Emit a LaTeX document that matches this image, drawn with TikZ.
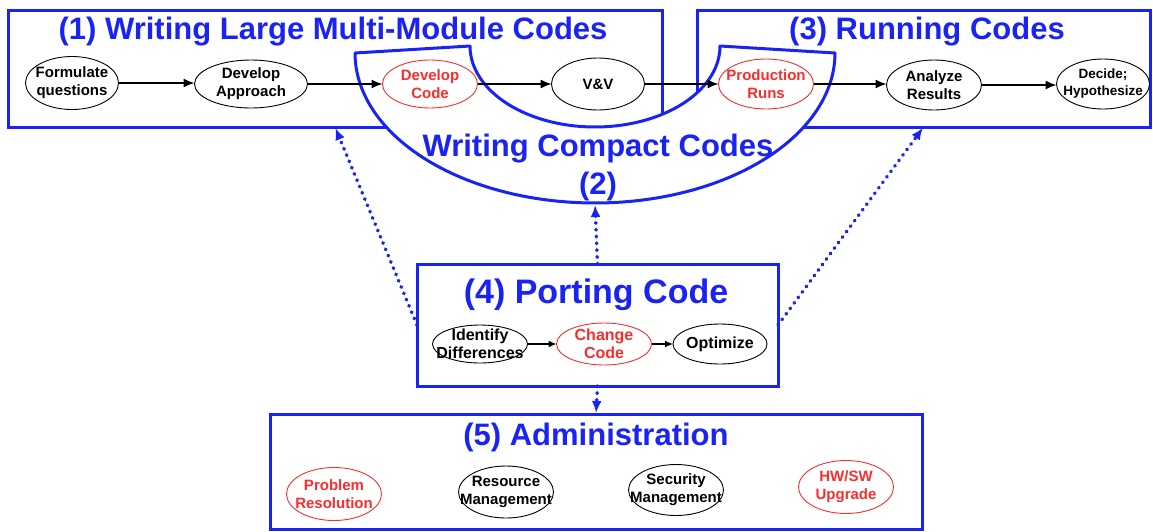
\documentclass[tikz,border=0pt]{standalone}
\usepackage{fontspec}
\setmainfont{Liberation Sans}
\usetikzlibrary{arrows.meta,shapes.geometric}
\definecolor{bl}{RGB}{25,35,245}
\definecolor{rd}{RGB}{250,45,45}
\begin{document}
\begin{tikzpicture}[x=1pt,y=-1pt,
  box/.style={draw=bl,line width=3pt,inner sep=0pt,outer sep=0pt},
  title/.style={text=bl,font=\fontsize{31}{38}\selectfont\bfseries,inner sep=0pt,align=center},
  el/.style={draw=black,ellipse,line width=0.9pt,inner sep=0pt,outer sep=0pt},
  rel/.style={el,draw=rd},
  lab/.style={align=center,inner sep=0pt,font=\fontsize{15}{18}\selectfont\bfseries},
  rlab/.style={lab,text=rd},
  arr/.style={-{Latex[length=11pt,width=9pt]},line width=1.3pt},
  sarr/.style={-{Latex[length=8pt,width=7pt]},line width=1.3pt},
  dotarr/.style={draw=bl,line width=3.6pt,line cap=round,dash pattern=on 0.6pt off 6.2pt,
     -{Latex[length=12pt,width=10pt]},shorten >=1pt}]
\useasboundingbox (0,0) rectangle (1153,531);

% boxes
\node[box,minimum width=654pt,minimum height=117pt] (b1) at (335,68.5) {};
\node[box,minimum width=453pt,minimum height=117pt] (b3) at (923.5,68.5) {};
\node[box,minimum width=361pt,minimum height=122pt] (b4) at (597.5,325) {};
\node[box,minimum width=652pt,minimum height=115pt] (b5) at (596,471.5) {};

% compact codes band
\draw[draw=bl,line width=3pt,fill=white,line join=round]
  (355,53) -- (470,46)
  -- plot[domain=0:180,samples=90] ({595-125*cos(\x)},{46+81*sin(\x)})
  -- (835,53)
  -- plot[domain=0:180,samples=120] ({595+240*cos(\x)},{53+150*sin(\x)})
  -- cycle;
\coordinate (c2) at (595,204);

% titles
\node[title] (t1) at (333,32) {(1) Writing Large Multi-Module Codes};
\node[title] (t3) at (927,32) {(3) Running Codes};
\node[title] (t2) at (598,167) {Writing Compact Codes\\(2)};
\node[title,font=\fontsize{34}{40}\selectfont\bfseries] (t4) at (596,295) {(4) Porting Code};
\node[title] (t5) at (596,437) {(5) Administration};

% top row
\node[el,minimum width=93pt,minimum height=53pt,label={[lab]center:Formulate\\questions}] (f) at (72,83) {};
\node[el,minimum width=113pt,minimum height=48pt,label={[lab]center:Develop\\Approach}] (da) at (251,84) {};
\node[rel,minimum width=95pt,minimum height=48pt,label={[rlab]center:Develop\\Code}] (dc) at (430,84) {};
\node[el,minimum width=93pt,minimum height=52pt,label={[lab]center:V\&V}] (vv) at (598,84) {};
\node[rel,minimum width=95pt,minimum height=50pt,label={[rlab]center:Production\\Runs}] (pr) at (766,84) {};
\node[el,minimum width=95pt,minimum height=50pt,label={[lab]center:Analyze\\Results}] (ar) at (934,85) {};
\node[el,minimum width=93pt,minimum height=50pt,label={[lab,font=\fontsize{13.5}{17}\selectfont\bfseries]center:Decide;\\Hypothesize}] (dh) at (1103,84) {};

\draw[arr] (f) -- (f -| da.west);
\draw[arr] (da) -- (da -| dc.west);
\draw[arr] (dc) -- (dc -| vv.west);
\draw[arr] (vv) -- (vv -| pr.west);
\draw[arr] (pr) -- (pr -| ar.west);
\draw[arr] (ar) -- (ar -| dh.west);

% porting row
\node[el,minimum width=95pt,minimum height=38pt,label={[lab,font=\fontsize{16}{18}\selectfont\bfseries]center:Identify\\Differences}] (id) at (480,344) {};
\node[rel,minimum width=95pt,minimum height=42pt,label={[rlab,font=\fontsize{16}{18}\selectfont\bfseries]center:Change\\Code}] (cc) at (604,344) {};
\node[el,minimum width=94pt,minimum height=40pt,label={[lab,font=\fontsize{16}{18}\selectfont\bfseries]center:Optimize}] (op) at (720,344) {};
\draw[sarr] (id) -- (cc);
\draw[sarr] (cc) -- (op);

% administration row
\node[rel,minimum width=95pt,minimum height=53pt,label={[rlab]center:Problem\\Resolution}] (prb) at (334,494) {};
\node[el,minimum width=95pt,minimum height=52pt,label={[lab]center:Resource\\Management}] (rm) at (506,492) {};
\node[el,minimum width=95pt,minimum height=51pt,label={[lab]center:Security\\Management}] (sm) at (676,490) {};
\node[rel,minimum width=95pt,minimum height=53pt,label={[rlab]center:HW/SW\\Upgrade}] (hw) at (846,487) {};

% dotted connectors
\draw[dotarr] (b4.west) -- (b1.south);
\draw[dotarr] (b4.east) -- (b3.south);
\draw[dotarr] (b4.north) -- (c2);
\draw[dotarr] (b4.south) -- (b5.north);
\end{tikzpicture}
\end{document}
